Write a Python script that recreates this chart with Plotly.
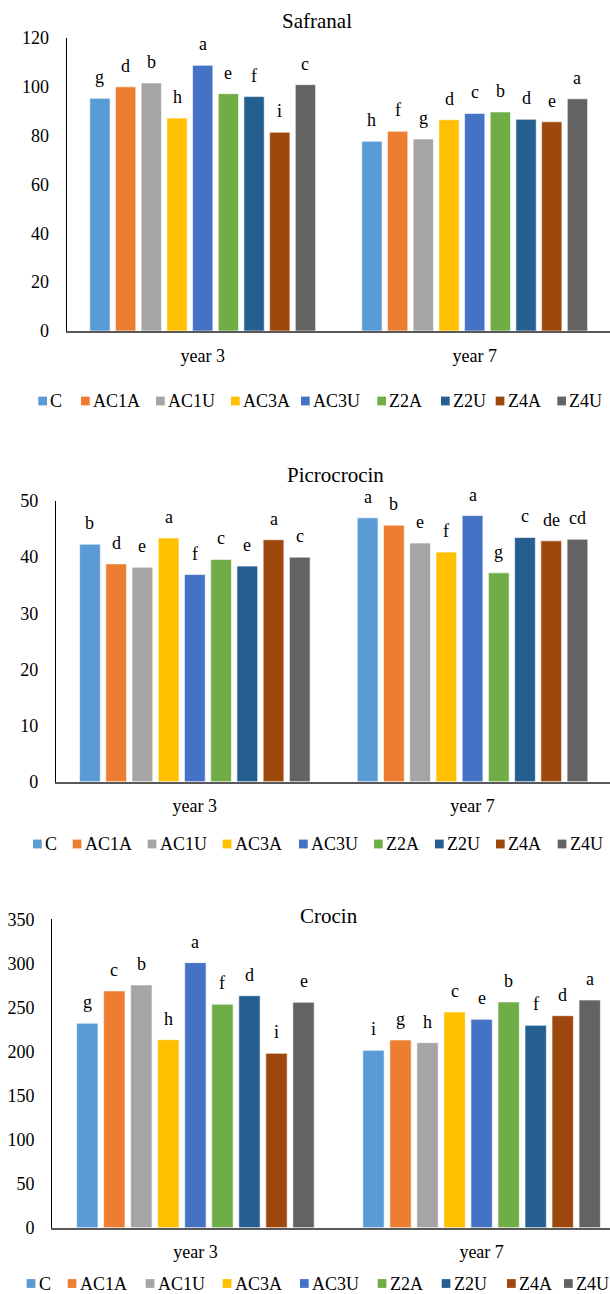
import plotly.graph_objects as go

W, H = 610, 1294

# ---------------- data ----------------
years = ["year 3", "year 7"]
treatments = ["C", "AC1A", "AC1U", "AC3A", "AC3U", "Z2A", "Z2U", "Z4A", "Z4U"]

safranal_y3 = [95.3, 100.0, 101.6, 87.2, 108.8, 97.2, 96.0, 81.4, 100.9]
safranal_y7 = [77.7, 81.8, 78.6, 86.5, 89.1, 89.7, 86.7, 85.7, 95.1]
safranal_let_y3 = ["g", "d", "b", "h", "a", "e", "f", "i", "c"]
safranal_let_y7 = ["h", "f", "g", "d", "c", "b", "d", "e", "a"]
safranal_ticks = [0, 20, 40, 60, 80, 100, 120]

picrocrocin_y3 = [42.3, 38.8, 38.2, 43.4, 36.9, 39.6, 38.4, 43.1, 40.0]
picrocrocin_y7 = [47.0, 45.7, 42.5, 40.9, 47.4, 37.2, 43.5, 42.9, 43.2]
picrocrocin_let_y3 = ["b", "d", "e", "a", "f", "c", "e", "a", "c"]
picrocrocin_let_y7 = ["a", "b", "e", "f", "a", "g", "c", "de", "cd"]
picrocrocin_ticks = [0, 10, 20, 30, 40, 50]

crocin_y3 = [232.0, 268.7, 275.5, 213.4, 300.8, 253.6, 263.3, 197.9, 255.8]
crocin_y7 = [201.3, 213.0, 210.0, 244.8, 236.5, 256.2, 229.7, 240.6, 258.4]
crocin_let_y3 = ["g", "c", "b", "h", "a", "f", "d", "i", "e"]
crocin_let_y7 = ["i", "g", "h", "c", "e", "b", "f", "d", "a"]
crocin_ticks = [0, 50, 100, 150, 200, 250, 300, 350]

# ---------------- style ----------------
colors = ["#5B9BD5", "#ED7D31", "#A5A5A5", "#FFC000", "#4472C4",
          "#70AD47", "#255E91", "#9E480E", "#636363"]
FONT = "Liberation Serif, Times New Roman, serif"
BARGAP = 0.15
GROUPGAP = 0.21

panels = [
    dict(title="Safranal", y3=safranal_y3, y7=safranal_y7,
         l3=safranal_let_y3, l7=safranal_let_y7, ticks=safranal_ticks,
         x_left=66.7, y_top=38, y_bot=331, xmax=1.4975,
         title_x=317, title_y=21.5, leg_y=401,
         leg_x=[38.3, 81, 156, 231, 301, 377.3, 441, 495.7, 557.3]),
    dict(title="Picrocrocin", y3=picrocrocin_y3, y7=picrocrocin_y7,
         l3=picrocrocin_let_y3, l7=picrocrocin_let_y7, ticks=picrocrocin_ticks,
         x_left=56, y_top=501, y_bot=781.7, xmax=1.495,
         title_x=335, title_y=474.5, leg_y=844,
         leg_x=[33, 72.7, 147.7, 222.7, 299, 374, 435, 496, 557.7]),
    dict(title="Crocin", y3=crocin_y3, y7=crocin_y7,
         l3=crocin_let_y3, l7=crocin_let_y7, ticks=crocin_ticks,
         x_left=52.3, y_top=919.3, y_bot=1227.7, xmax=1.4486,
         title_x=328.5, title_y=915.5, leg_y=1283.5,
         leg_x=[26.7, 67.7, 145.7, 222.7, 300, 377.7, 441.7, 507, 564]),
]

fig = go.Figure()
annotations = []
shapes = []
layout_axes = {}

n = len(treatments)
slot = (1 - BARGAP) / n

for k, p in enumerate(panels):
    sfx = "" if k == 0 else str(k + 1)
    xa, ya = "x" + sfx, "y" + sfx
    for i, name in enumerate(treatments):
        fig.add_trace(go.Bar(
            x=years, y=[p["y3"][i], p["y7"][i]], name=name,
            marker=dict(color=colors[i], line=dict(color="rgba(255,255,255,0.75)", width=0.8)),
            xaxis=xa, yaxis=ya, showlegend=False, hoverinfo="skip"))
        for ci, (val, let) in enumerate([(p["y3"][i], p["l3"][i]), (p["y7"][i], p["l7"][i])]):
            annotations.append(dict(
                x=ci + (i - (n - 1) / 2) * slot, y=val, xref=xa, yref=ya,
                text=let, showarrow=False, xanchor="center", yanchor="bottom",
                yshift=9, font=dict(family=FONT, size=18, color="black")))
    ymax = p["ticks"][-1]
    layout_axes["xaxis" + sfx] = dict(
        domain=[p["x_left"] / W, 1.0], range=[-0.5, p["xmax"]], type="category",
        anchor=ya, showline=True, linecolor="#595959", linewidth=2,
        ticks="", showgrid=False, zeroline=False, ticklabelstandoff=7,
        automargin=False,
        tickfont=dict(family=FONT, size=18, color="black"), fixedrange=True)
    layout_axes["yaxis" + sfx] = dict(
        domain=[1 - p["y_bot"] / H, 1 - p["y_top"] / H], range=[0, ymax],
        anchor=xa, tickvals=p["ticks"], showline=True, linecolor="black",
        linewidth=1.3, ticks="", showgrid=False, zeroline=False,
        automargin=False,
        ticklabelstandoff=13, tickfont=dict(family=FONT, size=18, color="black"),
        fixedrange=True)
    # title
    annotations.append(dict(
        x=p["title_x"] / W, y=1 - p["title_y"] / H, xref="paper", yref="paper",
        text=p["title"], showarrow=False, xanchor="center", yanchor="middle",
        font=dict(family=FONT, size=21, color="black")))
    # legend (drawn as squares + text)
    for i, name in enumerate(treatments):
        lx = p["leg_x"][i]
        cy = p["leg_y"]
        shapes.append(dict(
            type="rect", xref="paper", yref="paper",
            x0=lx / W, x1=(lx + 8.7) / W, y0=1 - (cy + 4.4) / H, y1=1 - (cy - 4.4) / H,
            fillcolor=colors[i], line=dict(width=0)))
        annotations.append(dict(
            x=(lx + 12.0) / W, y=1 - cy / H, xref="paper", yref="paper",
            text=name, showarrow=False, xanchor="left", yanchor="middle",
            borderpad=0, xshift=-1, font=dict(family=FONT, size=18, color="black")))

fig.update_layout(
    width=W, height=H, margin=dict(l=0, r=0, t=0, b=0, pad=0, autoexpand=False),
    paper_bgcolor="white", plot_bgcolor="white",
    barmode="group", bargap=BARGAP, bargroupgap=GROUPGAP,
    annotations=annotations, shapes=shapes, showlegend=False,
    **layout_axes)

fig.write_html("out.html", config={"displayModeBar": False},
               post_script="document.body.style.margin='0';document.body.style.overflow='hidden';")
